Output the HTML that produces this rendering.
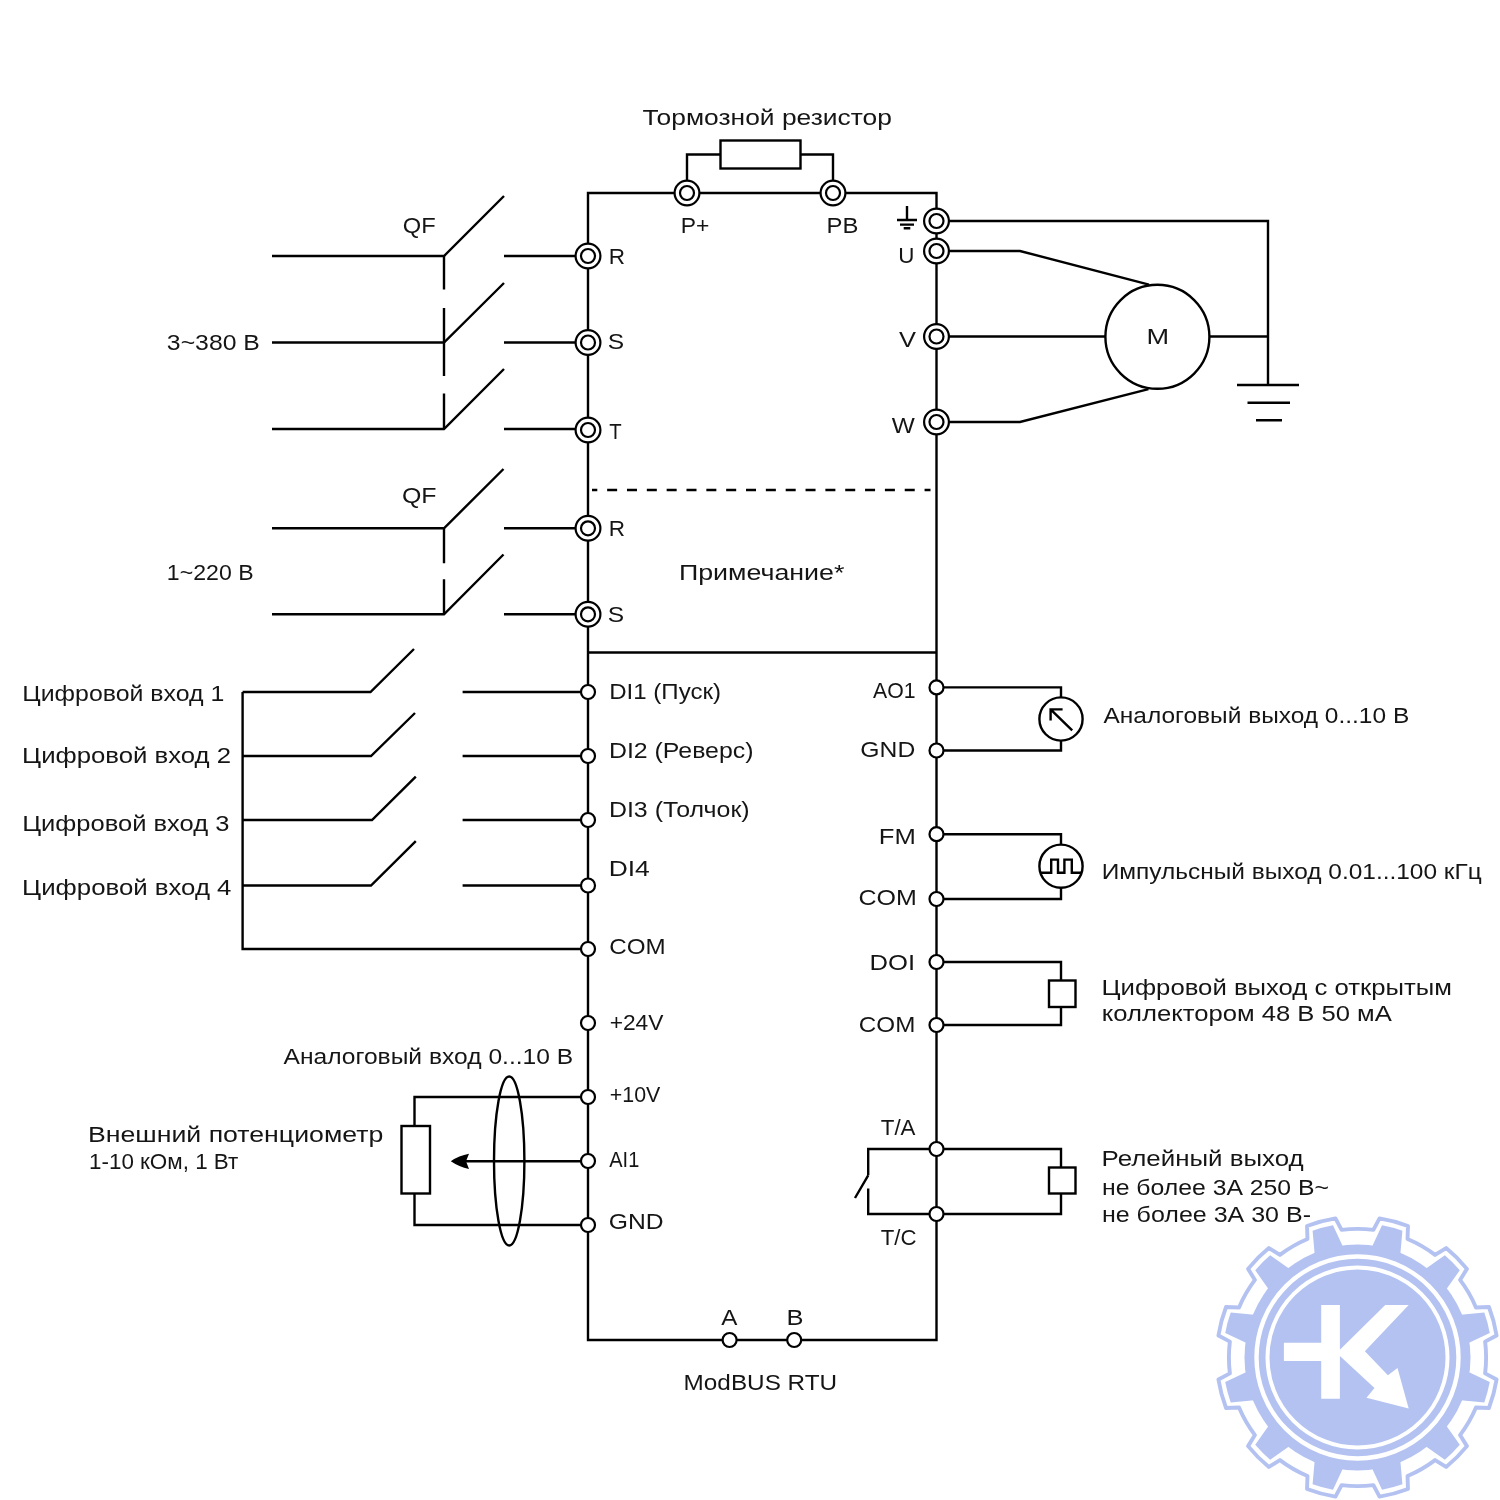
<!DOCTYPE html>
<html><head><meta charset="utf-8"><style>
html,body{margin:0;padding:0;background:#fff;}
svg{display:block;}
#wrap{width:1500px;height:1500px;}
.tx{will-change:transform;}
.ln path,.ln rect,.ln circle,.ln ellipse{fill:none;stroke:#000;stroke-width:2.4;}
.tm circle.w{fill:#fff;stroke:#000;stroke-width:2.2;}
.tm circle.o{fill:none;stroke:#000;stroke-width:2.2;}
.ln .f{fill:#000;stroke:none;}
.tx text{font-family:"Liberation Sans",sans-serif;font-size:22.0px;fill:#151515;}
</style></head><body><div id="wrap">
<svg width="1500" height="1500" viewBox="0 0 1500 1500">
<rect width="1500" height="1500" fill="#fff"/>
<g>
<path d="M1485.11,1373.40 L1496.57,1379.53 A140.8,140.8 0 0 1 1488.95,1407.96 L1475.96,1407.54 A128.6,128.6 0 0 1 1460.07,1435.07 L1466.92,1446.11 A140.8,140.8 0 0 1 1446.11,1466.92 L1435.07,1460.07 A128.6,128.6 0 0 1 1407.54,1475.96 L1407.96,1488.95 A140.8,140.8 0 0 1 1379.53,1496.57 L1373.40,1485.11 A128.6,128.6 0 0 1 1341.60,1485.11 L1335.47,1496.57 A140.8,140.8 0 0 1 1307.04,1488.95 L1307.46,1475.96 A128.6,128.6 0 0 1 1279.93,1460.07 L1268.89,1466.92 A140.8,140.8 0 0 1 1248.08,1446.11 L1254.93,1435.07 A128.6,128.6 0 0 1 1239.04,1407.54 L1226.05,1407.96 A140.8,140.8 0 0 1 1218.43,1379.53 L1229.89,1373.40 A128.6,128.6 0 0 1 1229.89,1341.60 L1218.43,1335.47 A140.8,140.8 0 0 1 1226.05,1307.04 L1239.04,1307.46 A128.6,128.6 0 0 1 1254.93,1279.93 L1248.08,1268.89 A140.8,140.8 0 0 1 1268.89,1248.08 L1279.93,1254.93 A128.6,128.6 0 0 1 1307.46,1239.04 L1307.04,1226.05 A140.8,140.8 0 0 1 1335.47,1218.43 L1341.60,1229.89 A128.6,128.6 0 0 1 1373.40,1229.89 L1379.53,1218.43 A140.8,140.8 0 0 1 1407.96,1226.05 L1407.54,1239.04 A128.6,128.6 0 0 1 1435.07,1254.93 L1446.11,1248.08 A140.8,140.8 0 0 1 1466.92,1268.89 L1460.07,1279.93 A128.6,128.6 0 0 1 1475.96,1307.46 L1488.95,1307.04 A140.8,140.8 0 0 1 1496.57,1335.47 L1485.11,1341.60 A128.6,128.6 0 0 1 1485.11,1373.40 Z" fill="none" stroke="#b3c2f1" stroke-width="3.9" stroke-linejoin="round"/>
<path d="M1468.54,1372.12 L1489.75,1382.01 A134.5,134.5 0 0 1 1484.29,1402.40 L1460.97,1400.36 A112.0,112.0 0 0 1 1446.36,1425.68 L1459.77,1444.85 A134.5,134.5 0 0 1 1444.85,1459.77 L1425.68,1446.36 A112.0,112.0 0 0 1 1400.36,1460.97 L1402.40,1484.29 A134.5,134.5 0 0 1 1382.01,1489.75 L1372.12,1468.54 A112.0,112.0 0 0 1 1342.88,1468.54 L1332.99,1489.75 A134.5,134.5 0 0 1 1312.60,1484.29 L1314.64,1460.97 A112.0,112.0 0 0 1 1289.32,1446.36 L1270.15,1459.77 A134.5,134.5 0 0 1 1255.23,1444.85 L1268.64,1425.68 A112.0,112.0 0 0 1 1254.03,1400.36 L1230.71,1402.40 A134.5,134.5 0 0 1 1225.25,1382.01 L1246.46,1372.12 A112.0,112.0 0 0 1 1246.46,1342.88 L1225.25,1332.99 A134.5,134.5 0 0 1 1230.71,1312.60 L1254.03,1314.64 A112.0,112.0 0 0 1 1268.64,1289.32 L1255.23,1270.15 A134.5,134.5 0 0 1 1270.15,1255.23 L1289.32,1268.64 A112.0,112.0 0 0 1 1314.64,1254.03 L1312.60,1230.71 A134.5,134.5 0 0 1 1332.99,1225.25 L1342.88,1246.46 A112.0,112.0 0 0 1 1372.12,1246.46 L1382.01,1225.25 A134.5,134.5 0 0 1 1402.40,1230.71 L1400.36,1254.03 A112.0,112.0 0 0 1 1425.68,1268.64 L1444.85,1255.23 A134.5,134.5 0 0 1 1459.77,1270.15 L1446.36,1289.32 A112.0,112.0 0 0 1 1460.97,1314.64 L1484.29,1312.60 A134.5,134.5 0 0 1 1489.75,1332.99 L1468.54,1342.88 A112.0,112.0 0 0 1 1468.54,1372.12 Z" fill="#b3c2f1"/>
<circle cx="1357.5" cy="1357.5" r="113" fill="#b3c2f1"/>
<circle cx="1357.5" cy="1357.5" r="101" fill="none" stroke="#fff" stroke-width="4.4"/>
<circle cx="1357.5" cy="1357.5" r="90" fill="none" stroke="#fff" stroke-width="4"/>
<path fill="#fff" d="M1283.9,1342.8 H1321.2 V1304.9 H1339.9 V1349.7 L1385.2,1304.9 H1408.7 L1364.9,1351.3 L1387.9,1375.3 L1397.5,1367.9 L1408.7,1408.4 L1366.5,1397.7 L1374.5,1388.1 L1339.9,1356 V1398.8 H1321.2 V1360.9 H1283.9 Z"/>
</g>
<g class="ln">
<path d="M588.0,1340 V193 H936.5 V1340 Z"/>
<path d="M588.0,652.5 H936.5"/>
<path d="M592,490 H930.5" stroke-dasharray="10 9.84" stroke-dashoffset="4.7"/>
<rect x="720.5" y="140.5" width="80" height="28"/>
<path d="M687,181 V154.5 H720.5 M800.5,154.5 H833 V181"/>
<path d="M272,256 H444 L504,196 M504,256 H588.0"/>
<path d="M272,342.5 H444 L504,283 M504,342.5 H588.0"/>
<path d="M272,429 H444 L504,369 M504,429 H588.0"/>
<path d="M444,256 V289.5 M444,308 V376 M444,393.5 V429"/>
<path d="M272,528.3 H444 L503.5,469 M504,528.3 H588.0"/>
<path d="M272,614.3 H444 L503.5,554.5 M504,614.3 H588.0"/>
<path d="M444,528.3 V563.3 M444,579.3 V614.3"/>
<path d="M936.5,221 H1268 V385 M1237,385 H1299 M1247.5,402.7 H1290 M1256,420.3 H1282"/>
<circle cx="1157.4" cy="336.8" r="52"/>
<path d="M1209.4,336.5 H1268"/>
<path d="M936.5,251 H1020 L1149,284.6 M936.5,336.5 H1105.4 M936.5,422 H1020 L1148.5,389.2"/>
<path d="M907,206 V220 M897,220 H917 M900,224.6 H914 M903.7,228.2 H910.3"/>
<path d="M242.6,692 V949 H588.0"/>
<path d="M242.6,692 H370.5 L414,649 M462.6,692 H588.0"/>
<path d="M242.6,756 H371 L415,713 M462.6,756 H588.0"/>
<path d="M242.6,820 H372 L415.8,776.6 M462.6,820 H588.0"/>
<path d="M242.6,885.5 H371 L415.8,841.2 M462.6,885.5 H588.0"/>
<path d="M588.0,1097 H414.5 V1126 M414.5,1193.5 V1225 H588.0"/>
<rect x="401.5" y="1126" width="28.5" height="67.5"/>
<path d="M588.0,1161.2 H466"/>
<path class="f" d="M450.8,1161.2 Q459,1155.6 469,1153.8 L466,1161.2 L469,1168.9 Q459,1166.8 450.8,1161.2 Z"/>
<ellipse cx="509.2" cy="1161" rx="15.2" ry="84.5"/>
<path d="M936.5,687.4 H1061 V697.5 M1061,740.5 V750.5 H936.5"/>
<circle cx="1061" cy="719" r="21.6"/>
<path d="M1062.6,709.4 H1050.6 V720.4 M1050.6,709.4 L1072.2,730.4"/>
<path d="M936.5,834.2 H1061 V844.6 M1061,887.8 V899 H936.5"/>
<circle cx="1061" cy="866.2" r="21.6"/>
<path d="M1040,872.8 H1051.2 V859.6 H1058 V872.8 H1064.4 V859.6 H1071.8 V872.8 H1081.8"/>
<path d="M936.5,962 H1061 V980.5 M1061,1007 V1025 H936.5"/>
<rect x="1049" y="980.5" width="26.5" height="26.5"/>
<path d="M868.2,1175.3 V1149 H1061 V1167.5 M1061,1193.5 V1214 H868.2 V1188.5 M868.2,1175.3 L855,1198"/>
<rect x="1049" y="1167.5" width="26.5" height="26"/>
</g>
<g class="tm">
<g transform="translate(687,193)"><circle r="12.4" class="w"/><circle r="7" class="o"/></g>
<g transform="translate(833,193)"><circle r="12.4" class="w"/><circle r="7" class="o"/></g>
<g transform="translate(936.5,221)"><circle r="12.4" class="w"/><circle r="7" class="o"/></g>
<g transform="translate(936.5,251)"><circle r="12.4" class="w"/><circle r="7" class="o"/></g>
<g transform="translate(936.5,336.5)"><circle r="12.4" class="w"/><circle r="7" class="o"/></g>
<g transform="translate(936.5,422)"><circle r="12.4" class="w"/><circle r="7" class="o"/></g>
<g transform="translate(588.0,256)"><circle r="12.4" class="w"/><circle r="7" class="o"/></g>
<g transform="translate(588.0,342.5)"><circle r="12.4" class="w"/><circle r="7" class="o"/></g>
<g transform="translate(588.0,430)"><circle r="12.4" class="w"/><circle r="7" class="o"/></g>
<g transform="translate(588.0,528.3)"><circle r="12.4" class="w"/><circle r="7" class="o"/></g>
<g transform="translate(588.0,614.3)"><circle r="12.4" class="w"/><circle r="7" class="o"/></g>
<circle cx="588.0" cy="692" r="7" class="w"/>
<circle cx="588.0" cy="756" r="7" class="w"/>
<circle cx="588.0" cy="820" r="7" class="w"/>
<circle cx="588.0" cy="885.5" r="7" class="w"/>
<circle cx="588.0" cy="949" r="7" class="w"/>
<circle cx="588.0" cy="1023" r="7" class="w"/>
<circle cx="588.0" cy="1097" r="7" class="w"/>
<circle cx="588.0" cy="1161" r="7" class="w"/>
<circle cx="588.0" cy="1225" r="7" class="w"/>
<circle cx="936.5" cy="687.4" r="7" class="w"/>
<circle cx="936.5" cy="750.5" r="7" class="w"/>
<circle cx="936.5" cy="834.2" r="7" class="w"/>
<circle cx="936.5" cy="899" r="7" class="w"/>
<circle cx="936.5" cy="962" r="7" class="w"/>
<circle cx="936.5" cy="1025" r="7" class="w"/>
<circle cx="936.5" cy="1149" r="7" class="w"/>
<circle cx="936.5" cy="1214" r="7" class="w"/>
<circle cx="729.6" cy="1340" r="7" class="w"/>
<circle cx="794.2" cy="1340" r="7" class="w"/>
</g>
<g class="tx">
<text id="t0" x="642.56" y="125.20" textLength="249.31" lengthAdjust="spacingAndGlyphs">Тормозной резистор</text>
<text id="t1" x="680.73" y="232.70" textLength="28.63" lengthAdjust="spacingAndGlyphs">P+</text>
<text id="t2" x="826.47" y="232.70" textLength="31.86" lengthAdjust="spacingAndGlyphs">PB</text>
<text id="t3" x="402.79" y="233.30" textLength="32.88" lengthAdjust="spacingAndGlyphs">QF</text>
<text id="t4" x="608.72" y="263.50" textLength="16.26" lengthAdjust="spacingAndGlyphs">R</text>
<text id="t5" x="607.83" y="349.30" textLength="16.40" lengthAdjust="spacingAndGlyphs">S</text>
<text id="t6" x="609.21" y="438.70" textLength="12.42" lengthAdjust="spacingAndGlyphs">T</text>
<text id="t7" x="166.87" y="349.60" textLength="93.00" lengthAdjust="spacingAndGlyphs">3~380 В</text>
<text id="t8" x="898.23" y="262.80" textLength="16.16" lengthAdjust="spacingAndGlyphs">U</text>
<text id="t9" x="899.00" y="347.00" textLength="17.00" lengthAdjust="spacingAndGlyphs">V</text>
<text id="t10" x="891.80" y="432.90" textLength="23.04" lengthAdjust="spacingAndGlyphs">W</text>
<text id="t11" x="1146.50" y="344.00" textLength="22.60" lengthAdjust="spacingAndGlyphs">M</text>
<text id="t12" x="401.90" y="503.00" textLength="34.60" lengthAdjust="spacingAndGlyphs">QF</text>
<text id="t13" x="608.72" y="536.00" textLength="16.26" lengthAdjust="spacingAndGlyphs">R</text>
<text id="t14" x="607.83" y="622.00" textLength="16.40" lengthAdjust="spacingAndGlyphs">S</text>
<text id="t15" x="166.88" y="580.00" textLength="86.71" lengthAdjust="spacingAndGlyphs">1~220 В</text>
<text id="t16" x="678.96" y="580.00" textLength="165.44" lengthAdjust="spacingAndGlyphs">Примечание*</text>
<text id="t17" x="22.31" y="700.80" textLength="202.03" lengthAdjust="spacingAndGlyphs">Цифровой вход 1</text>
<text id="t18" x="22.11" y="763.30" textLength="209.01" lengthAdjust="spacingAndGlyphs">Цифровой вход 2</text>
<text id="t19" x="22.16" y="831.00" textLength="207.21" lengthAdjust="spacingAndGlyphs">Цифровой вход 3</text>
<text id="t20" x="22.11" y="895.00" textLength="209.34" lengthAdjust="spacingAndGlyphs">Цифровой вход 4</text>
<text id="t21" x="609.21" y="699.30" textLength="111.80" lengthAdjust="spacingAndGlyphs">DI1 (Пуск)</text>
<text id="t22" x="608.96" y="758.00" textLength="144.53" lengthAdjust="spacingAndGlyphs">DI2 (Реверс)</text>
<text id="t23" x="608.93" y="816.70" textLength="140.68" lengthAdjust="spacingAndGlyphs">DI3 (Толчок)</text>
<text id="t24" x="608.70" y="875.80" textLength="41.10" lengthAdjust="spacingAndGlyphs">DI4</text>
<text id="t25" x="609.21" y="954.00" textLength="56.36" lengthAdjust="spacingAndGlyphs">COM</text>
<text id="t26" x="609.65" y="1030.00" textLength="53.84" lengthAdjust="spacingAndGlyphs">+24V</text>
<text id="t27" x="283.48" y="1064.40" textLength="289.75" lengthAdjust="spacingAndGlyphs">Аналоговый вход 0...10 В</text>
<text id="t28" x="609.83" y="1102.40" textLength="50.57" lengthAdjust="spacingAndGlyphs">+10V</text>
<text id="t29" x="609.28" y="1167.20" textLength="30.04" lengthAdjust="spacingAndGlyphs">AI1</text>
<text id="t30" x="608.71" y="1228.60" textLength="54.82" lengthAdjust="spacingAndGlyphs">GND</text>
<text id="t31" x="87.93" y="1142.10" textLength="295.33" lengthAdjust="spacingAndGlyphs">Внешний потенциометр</text>
<text id="t32" x="89.04" y="1168.60" textLength="149.24" lengthAdjust="spacingAndGlyphs">1-10 кОм, 1 Вт</text>
<text id="t33" x="873.00" y="697.80" textLength="42.50" lengthAdjust="spacingAndGlyphs">AO1</text>
<text id="t34" x="860.34" y="756.50" textLength="54.92" lengthAdjust="spacingAndGlyphs">GND</text>
<text id="t35" x="878.88" y="844.00" textLength="37.02" lengthAdjust="spacingAndGlyphs">FM</text>
<text id="t36" x="858.50" y="905.30" textLength="58.28" lengthAdjust="spacingAndGlyphs">COM</text>
<text id="t37" x="869.61" y="970.00" textLength="45.50" lengthAdjust="spacingAndGlyphs">DOI</text>
<text id="t38" x="858.86" y="1032.30" textLength="56.46" lengthAdjust="spacingAndGlyphs">COM</text>
<text id="t39" x="880.76" y="1135.00" textLength="34.74" lengthAdjust="spacingAndGlyphs">T/A</text>
<text id="t40" x="880.77" y="1245.00" textLength="35.77" lengthAdjust="spacingAndGlyphs">T/C</text>
<text id="t41" x="721.16" y="1325.10" textLength="16.16" lengthAdjust="spacingAndGlyphs">A</text>
<text id="t42" x="786.59" y="1325.10" textLength="17.01" lengthAdjust="spacingAndGlyphs">B</text>
<text id="t43" x="683.61" y="1389.70" textLength="153.48" lengthAdjust="spacingAndGlyphs">ModBUS RTU</text>
<text id="t44" x="1103.48" y="722.80" textLength="305.74" lengthAdjust="spacingAndGlyphs">Аналоговый выход 0...10 В</text>
<text id="t45" x="1101.72" y="878.60" textLength="380.04" lengthAdjust="spacingAndGlyphs">Импульсный выход 0.01...100 кГц</text>
<text id="t46" x="1101.58" y="995.00" textLength="350.37" lengthAdjust="spacingAndGlyphs">Цифровой выход с открытым</text>
<text id="t47" x="1101.87" y="1020.70" textLength="289.99" lengthAdjust="spacingAndGlyphs">коллектором 48 В 50 мА</text>
<text id="t48" x="1101.53" y="1166.30" textLength="202.20" lengthAdjust="spacingAndGlyphs">Релейный выход</text>
<text id="t49" x="1101.99" y="1194.50" textLength="227.05" lengthAdjust="spacingAndGlyphs">не более 3А 250 В~</text>
<text id="t50" x="1101.96" y="1221.80" textLength="209.03" lengthAdjust="spacingAndGlyphs">не более 3А 30 В-</text>
</g>
</svg></div>
</body></html>
